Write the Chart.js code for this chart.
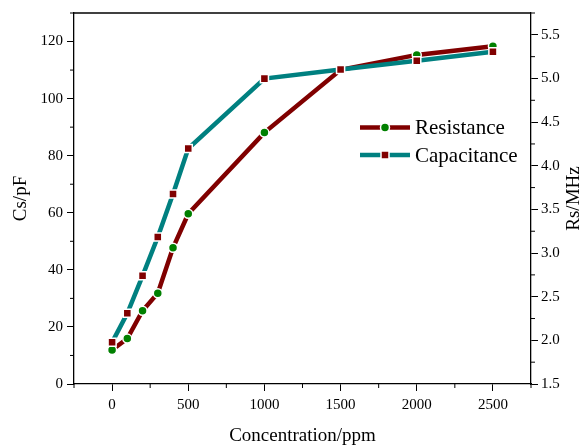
<!DOCTYPE html>
<html><head><meta charset="utf-8">
<script src="https://cdn.jsdelivr.net/npm/chart.js@4.4.0/dist/chart.umd.min.js"></script>
<style>html,body{margin:0;padding:0;background:#fff}#wrap{width:584px;height:446px}</style>
</head><body><div id="wrap"><canvas id="c" width="584" height="446"></canvas></div>
<script>
const concentration = [0, 100, 200, 300, 400, 500, 1000, 1500, 2000, 2500];
const resistanceMHz = [1.89, 2.02, 2.34, 2.54, 3.06, 3.45, 4.38, 5.10, 5.27, 5.37];
const capacitancePF = [14.6, 24.8, 37.9, 51.5, 66.6, 82.5, 107.0, 110.2, 113.3, 116.4];
const xTicks = [0, 500, 1000, 1500, 2000, 2500];
const leftTicks = [0, 20, 40, 60, 80, 100, 120];
const rightTicks = [1.5, 2.0, 2.5, 3.0, 3.5, 4.0, 4.5, 5.0, 5.5];
const xMinor = [-250, 250, 750, 1250, 1750, 2250, 2750];
const leftMinor = [10, 30, 50, 70, 90, 110, 130];
const rightMinor = [1.75, 2.25, 2.75, 3.25, 3.75, 4.25, 4.75, 5.25, 5.75];

const SERIF = "'Liberation Serif', 'Times New Roman', serif";
const RED = '#800000', TEAL = '#008080', GREEN = '#008000';

const toPts = (ys) => concentration.map((x, i) => ({x, y: ys[i]}));

const extras = {
  id: 'extras',
  afterDraw(chart) {
    const ctx = chart.ctx, a = chart.chartArea;
    const sx = chart.scales.x, sl = chart.scales.yL, sr = chart.scales.yR;
    ctx.save();
    ctx.strokeStyle = '#000';
    ctx.lineWidth = 1.3;
    ctx.beginPath(); ctx.moveTo(a.left, a.top); ctx.lineTo(a.right, a.top); ctx.stroke();
    ctx.lineWidth = 1;
    ctx.beginPath();
    xMinor.forEach(v => { const p = sx.getPixelForValue(v); ctx.moveTo(p, a.bottom); ctx.lineTo(p, a.bottom + 4); });
    leftMinor.forEach(v => { const p = sl.getPixelForValue(v); ctx.moveTo(a.left, p); ctx.lineTo(a.left - 4, p); });
    rightMinor.forEach(v => { const p = sr.getPixelForValue(v); ctx.moveTo(a.right, p); ctx.lineTo(a.right + 4, p); });
    ctx.stroke();
    ctx.fillStyle = '#000';
    ctx.font = '19px ' + SERIF;
    ctx.textAlign = 'center'; ctx.textBaseline = 'middle';
    ctx.translate(574, (a.top + a.bottom) / 2);
    ctx.rotate(-Math.PI / 2);
    ctx.fillText('Rs/MHz', 0, 0);
    ctx.restore();
    const rows = [
      {label: 'Resistance', line: RED, fill: GREEN, shape: 'circle', y: 127.5},
      {label: 'Capacitance', line: TEAL, fill: RED, shape: 'rect', y: 155}
    ];
    ctx.save();
    rows.forEach(r => {
      ctx.strokeStyle = r.line; ctx.lineWidth = 4.5;
      ctx.beginPath(); ctx.moveTo(360, r.y); ctx.lineTo(410, r.y); ctx.stroke();
      ctx.fillStyle = r.fill; ctx.strokeStyle = '#fff'; ctx.lineWidth = 1.5;
      ctx.beginPath();
      if (r.shape === 'circle') ctx.arc(385, r.y, 4.5, 0, Math.PI * 2);
      else ctx.rect(385 - 4, r.y - 4, 8, 8);
      ctx.fill(); ctx.stroke();
      ctx.fillStyle = '#000'; ctx.font = '21px ' + SERIF;
      ctx.textAlign = 'left'; ctx.textBaseline = 'middle';
      ctx.fillText(r.label, 415, r.y + 1);
    });
    ctx.restore();
  }
};

new Chart(document.getElementById('c'), {
  type: 'line',
  data: {
    datasets: [
      {
        label: 'Resistance', data: toPts(resistanceMHz), yAxisID: 'yR', order: 1,
        borderColor: RED, borderWidth: 4.5, pointStyle: 'circle', pointRadius: 4.5,
        pointBackgroundColor: GREEN, pointBorderColor: '#fff', pointBorderWidth: 1.5,
        tension: 0, fill: false
      },
      {
        label: 'Capacitance', data: toPts(capacitancePF), yAxisID: 'yL', order: 0,
        borderColor: TEAL, borderWidth: 4.5, pointStyle: 'rect', pointRadius: 5.7,
        pointBackgroundColor: RED, pointBorderColor: '#fff', pointBorderWidth: 1.5,
        tension: 0, fill: false
      }
    ]
  },
  options: {
    responsive: false, animation: false, devicePixelRatio: 1,
    layout: {padding: {top: 13, left: 0, right: 0, bottom: 0}},
    plugins: {legend: {display: false}, tooltip: {enabled: false}},
    scales: {
      x: {
        type: 'linear', position: 'bottom', min: -250, max: 2750,
        afterBuildTicks: s => { s.ticks = xTicks.map(v => ({value: v})); },
        afterFit: s => { s.height = 62; },
        grid: {drawOnChartArea: false, drawTicks: true, tickLength: 7, color: '#000', lineWidth: 1},
        border: {display: true, color: '#000', width: 1.3},
        ticks: {color: '#000', font: {family: SERIF, size: 15}, padding: 5, maxRotation: 0, callback: v => String(v)},
        title: {display: true, text: 'Concentration/ppm', color: '#000', font: {family: SERIF, size: 19, lineHeight: 1}, padding: {top: 0, bottom: 0}}
      },
      yL: {
        type: 'linear', position: 'left', min: 0, max: 130,
        afterBuildTicks: s => { s.ticks = leftTicks.map(v => ({value: v})); },
        afterFit: s => { s.width = 74; },
        grid: {drawOnChartArea: false, drawTicks: true, tickLength: 7, color: '#000', lineWidth: 1},
        border: {display: true, color: '#000', width: 1.3},
        ticks: {color: '#000', font: {family: SERIF, size: 15}, padding: 4, callback: v => String(v)},
        title: {display: true, text: 'Cs/pF', color: '#000', font: {family: SERIF, size: 19, lineHeight: 1.2}, padding: {top: 10, bottom: 0}}
      },
      yR: {
        type: 'linear', position: 'right', min: 1.5, max: 5.75,
        afterBuildTicks: s => { s.ticks = rightTicks.map(v => ({value: v})); },
        afterFit: s => { s.width = 53; },
        grid: {drawOnChartArea: false, drawTicks: true, tickLength: 7, color: '#000', lineWidth: 1},
        border: {display: true, color: '#000', width: 1.3},
        ticks: {color: '#000', font: {family: SERIF, size: 15}, padding: 3, callback: v => Number(v).toFixed(1)}
      }
    }
  },
  plugins: [extras]
});
</script>
</body></html>
